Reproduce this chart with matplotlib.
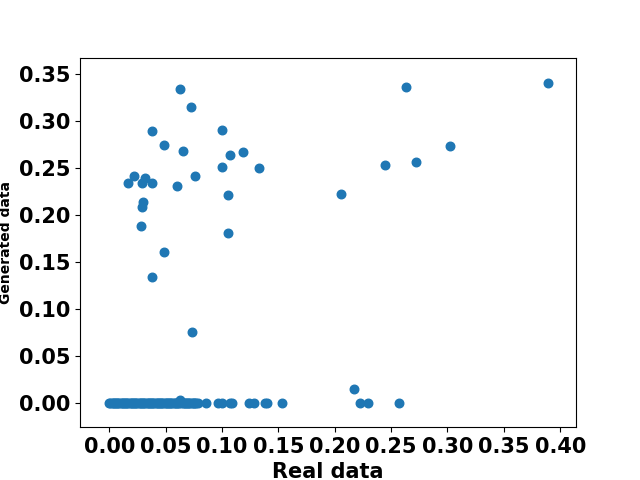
import numpy as np
import matplotlib
matplotlib.use("Agg")
import matplotlib.pyplot as plt

# points clearly off the zero line
real_hi = [0.0626, 0.0727, 0.038, 0.1002, 0.0487, 0.0656, 0.1073, 0.1189,
           0.0996, 0.133, 0.0762, 0.022, 0.0167, 0.0291, 0.0321, 0.038,
           0.0602, 0.1055, 0.030, 0.0291, 0.0282, 0.1055, 0.0487, 0.038,
           0.0734, 0.2636, 0.3888, 0.3018, 0.2725, 0.2449, 0.2059, 0.2174,
           0.0626]
gen_hi = [0.3338, 0.3147, 0.289, 0.290, 0.2744, 0.2673, 0.2638, 0.2662,
          0.2503, 0.2492, 0.2415, 0.2407, 0.234, 0.234, 0.239, 0.234,
          0.2301, 0.2213, 0.2135, 0.2082, 0.1884, 0.180, 0.1598, 0.134,
          0.0753, 0.3359, 0.340, 0.2733, 0.2563, 0.2531, 0.2224, 0.0145,
          0.003]

# points sitting on zero in the generated data
real_zero = [0.000, 0.001, 0.002, 0.003, 0.004, 0.005, 0.006, 0.007, 0.008,
             0.009, 0.010, 0.011, 0.012, 0.013, 0.014, 0.015, 0.016, 0.017,
             0.018, 0.019, 0.020, 0.021, 0.022, 0.023, 0.024, 0.025, 0.026,
             0.027, 0.028, 0.029, 0.030, 0.031, 0.032, 0.033, 0.034, 0.035,
             0.036, 0.037, 0.038, 0.039, 0.040, 0.041, 0.042, 0.043, 0.044,
             0.045, 0.046, 0.047, 0.048, 0.049, 0.050, 0.051, 0.052, 0.053,
             0.054, 0.055, 0.056, 0.057, 0.058, 0.059, 0.060, 0.061, 0.062,
             0.064, 0.065, 0.066, 0.067, 0.068, 0.069, 0.070, 0.071, 0.072,
             0.073, 0.074, 0.075, 0.076, 0.077, 0.079, 0.0857, 0.0963,
             0.100, 0.107, 0.109, 0.124, 0.128, 0.138, 0.140, 0.153,
             0.2225, 0.2299, 0.2574]
gen_zero = [0.0] * len(real_zero)

real = np.array(real_hi + real_zero)
gen = np.array(gen_hi + gen_zero)

fig, ax = plt.subplots(figsize=(6.4, 4.8), dpi=100)
ax.scatter(real, gen, s=38, color="#1f77b4")
ax.set_xlim(-0.026, 0.414)
ax.set_ylim(-0.026, 0.367)
ax.set_xticks(np.arange(0, 0.41, 0.05))
ax.set_yticks(np.arange(0, 0.36, 0.05))
ax.set_xlabel("Real data", fontsize=15, fontweight="bold")
ax.set_ylabel("Generated data", fontsize=10, fontweight="bold")
for lbl in ax.get_xticklabels() + ax.get_yticklabels():
    lbl.set_fontsize(15)
    lbl.set_fontweight("bold")

plt.savefig("out.png")
